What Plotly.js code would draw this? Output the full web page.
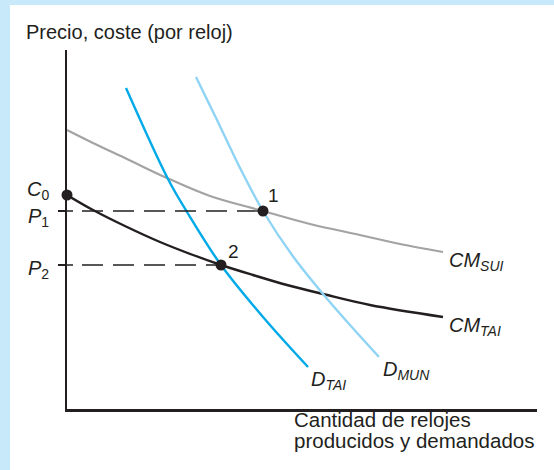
<!DOCTYPE html>
<html>
<head>
<meta charset="utf-8">
<script src="https://cdn.plot.ly/plotly-3.0.1.min.js"></script>
<style>
  html, body { margin: 0; padding: 0; background: #c8e9f9; width: 554px; height: 470px; overflow: hidden; }
  #chart { position: absolute; left: 10px; top: 5px; width: 544px; height: 465px; background: #ffffff; }
</style>
</head>
<body>
<div id="chart"></div>
<script>
// Quantity (x) and price/cost (y) values (arbitrary units)
const dTaiQ   = [59, 101, 120, 154, 196, 241];
const dTaiP   = [321, 230, 197, 144, 92, 42];
const dMunQ   = [129, 150, 173, 196, 225, 256, 283, 312];
const dMunP   = [332, 289, 241, 198, 154, 115, 84, 52];
const cmSuiQ  = [0, 26, 60, 100, 143, 196, 243, 293, 333, 376];
const cmSuiP  = [279, 266, 250, 231, 213, 198, 185, 174, 165, 157];
const cmTaiQ  = [0, 26, 60, 93, 126, 154, 186, 220, 256, 303, 376];
const cmTaiP  = [214, 199, 182, 167, 154, 144, 134, 124, 115, 104, 92];
const equilQ  = [196, 154];        // points 1 and 2
const equilP  = [198, 144];        // P1, P2
const equilLabels = ['1', '2'];
const c0Q = [0];
const c0P = [214];
const priceLabels = ['<i>P</i><sub>1</sub>', '<i>P</i><sub>2</sub>'];
const curveLabels = ['CM', 'CM', 'D', 'D'];
const curveSubs = ['SUI', 'TAI', 'TAI', 'MUN'];
const yTitle = 'Precio, coste (por reloj)';
const xTitleLines = ['Cantidad de relojes', 'producidos y demandados'];

const BLACK = '#231f20';
const FONT = 'Liberation Sans, Arial, Helvetica, sans-serif';

const traces = [
  { x: cmSuiQ, y: cmSuiP, mode: 'lines', line: { color: '#a3a3a3', width: 2.2, shape: 'spline', smoothing: 1 }, hoverinfo: 'skip' },
  { x: cmTaiQ, y: cmTaiP, mode: 'lines', line: { color: BLACK, width: 2.4, shape: 'spline', smoothing: 1 }, hoverinfo: 'skip' },
  { x: dTaiQ, y: dTaiP, mode: 'lines', line: { color: '#00a9e8', width: 2.4, shape: 'spline', smoothing: 1 }, hoverinfo: 'skip' },
  { x: dMunQ, y: dMunP, mode: 'lines', line: { color: '#8fd4f4', width: 2.4, shape: 'spline', smoothing: 1 }, hoverinfo: 'skip' }
];
// dashed guides from the price axis to each equilibrium point
equilQ.forEach((q, i) => {
  traces.push({ x: [15, q], y: [equilP[i], equilP[i]], mode: 'lines',
    line: { color: BLACK, width: 1.3, dash: '21px,10px' }, hoverinfo: 'skip' });
});
traces.push({ x: equilQ.concat(c0Q), y: equilP.concat(c0P), mode: 'markers',
  marker: { color: BLACK, size: 11 }, cliponaxis: false, hoverinfo: 'skip' });

const shapes = equilP.map(p => ({ type: 'line', xref: 'x', yref: 'y', x0: 0, x1: 6, y0: p, y1: p,
  line: { color: BLACK, width: 1.5 } }));

const f = (size) => ({ family: FONT, size, color: BLACK });
const lab = (x, y, text, opts) => Object.assign({ x, y, xref: 'x', yref: 'y', text, showarrow: false,
  font: f(20) }, opts || {});
const subLabel = (main, sub) => '<i>' + main + '</i><sub><span style="font-size:14px"><i>' + sub + '</i></span></sub>';

const ends = [[cmSuiQ, cmSuiP], [cmTaiQ, cmTaiP], [dTaiQ, dTaiP], [dMunQ, dMunP]];
const endOffsets = [[4, -9], [4, -9], [1, -13], [2, -13]];

const annotations = [
  { xref: 'paper', yref: 'paper', x: -0.091, y: 1.05, xanchor: 'left', yanchor: 'middle', text: yTitle, showarrow: false, font: f(20) },
  { xref: 'paper', yref: 'paper', x: 0.479, y: -0.028, xanchor: 'left', yanchor: 'middle', text: xTitleLines[0], showarrow: false, font: f(20.5) },
  { xref: 'paper', yref: 'paper', x: 0.479, y: -0.088, xanchor: 'left', yanchor: 'middle', text: xTitleLines[1], showarrow: false, font: f(20.5) },
  lab(c0Q[0], c0P[0], '<i>C</i><sub>0</sub>', { xanchor: 'right', yanchor: 'middle', xshift: -16, yshift: 5 }),
  lab(0, equilP[0], priceLabels[0], { xanchor: 'right', yanchor: 'middle', xshift: -16, yshift: -6 }),
  lab(0, equilP[1], priceLabels[1], { xanchor: 'right', yanchor: 'middle', xshift: -16, yshift: -4 }),
  lab(equilQ[0], equilP[0], equilLabels[0], { xanchor: 'center', yanchor: 'middle', xshift: 10, yshift: 16, font: f(19) }),
  lab(equilQ[1], equilP[1], equilLabels[1], { xanchor: 'center', yanchor: 'middle', xshift: 12, yshift: 14, font: f(19) })
];
ends.forEach((e, i) => {
  const n = e[0].length;
  annotations.push(lab(e[0][n - 1], e[1][n - 1], subLabel(curveLabels[i], curveSubs[i]),
    { xanchor: 'left', yanchor: 'middle', xshift: endOffsets[i][0], yshift: endOffsets[i][1] }));
});

const layout = {
  width: 544, height: 465,
  margin: { l: 57, r: 17, t: 45, b: 61 },
  paper_bgcolor: '#ffffff', plot_bgcolor: '#ffffff',
  showlegend: false,
  xaxis: { range: [0, 470], showgrid: false, zeroline: false, showticklabels: false, ticks: '',
    showline: true, linecolor: BLACK, linewidth: 2.5, fixedrange: true },
  yaxis: { range: [0, 359], showgrid: false, zeroline: false, showticklabels: false,
    ticks: 'outside', tickvals: equilP, ticklen: 7, tickwidth: 1.5, tickcolor: BLACK,
    showline: true, linecolor: BLACK, linewidth: 2.5, fixedrange: true },
  shapes, annotations,
  font: { family: FONT }
};

Plotly.newPlot('chart', traces, layout, { displayModeBar: false, staticPlot: true });
</script>
</body>
</html>
